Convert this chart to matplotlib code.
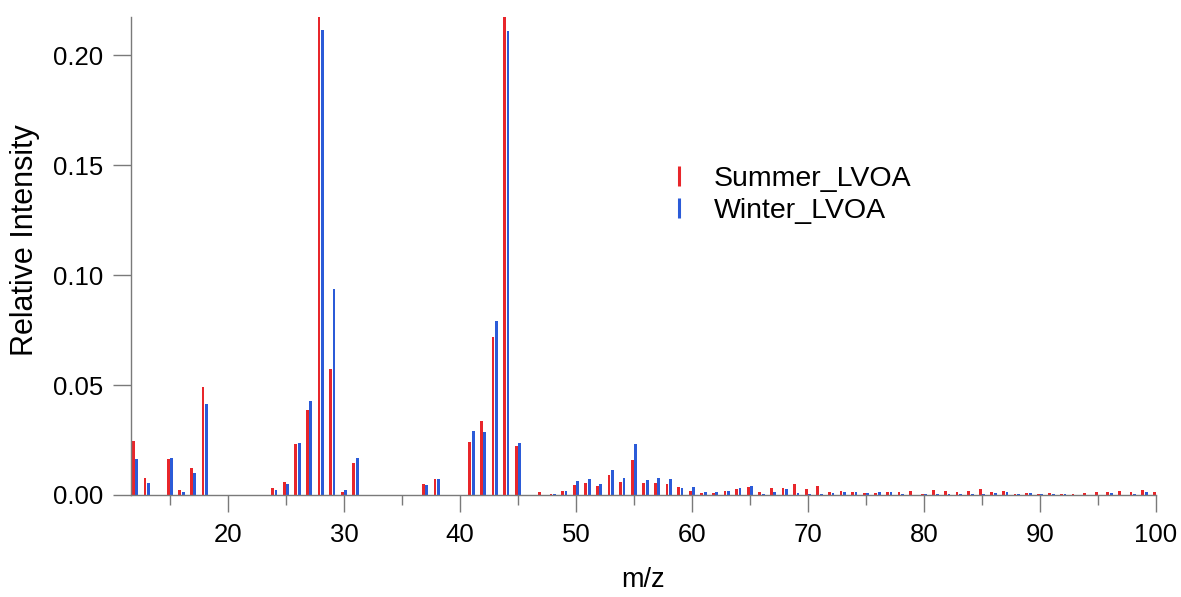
import matplotlib
matplotlib.use("Agg")
import matplotlib.pyplot as plt
from matplotlib.lines import Line2D
from matplotlib.ticker import MultipleLocator
import numpy as np

plt.rcParams['font.family'] = ['Liberation Sans', 'DejaVu Sans']

mz = list(range(12, 101))

summer = {
    12: 0.0245, 13: 0.0076, 15: 0.0165, 16: 0.0021, 17: 0.0123, 18: 0.0490,
    24: 0.0030, 25: 0.0059, 26: 0.0232, 27: 0.0386, 28: 0.2190, 29: 0.0573,
    30: 0.0014, 31: 0.0144, 37: 0.0049, 38: 0.0073, 41: 0.0242, 42: 0.0338,
    43: 0.0717, 44: 0.2190, 45: 0.0223, 47: 0.0014, 48: 0.0003, 49: 0.0017,
    50: 0.0045, 51: 0.0053, 52: 0.0040, 53: 0.0091, 54: 0.0059, 55: 0.0160,
    56: 0.0056, 57: 0.0053, 58: 0.0049, 59: 0.0035, 60: 0.0020, 61: 0.0010,
    62: 0.0008, 63: 0.0018, 64: 0.0028, 65: 0.0036, 66: 0.0015, 67: 0.0033,
    68: 0.0030, 69: 0.0048, 70: 0.0027, 71: 0.0041, 72: 0.0015, 73: 0.0018,
    74: 0.0014, 75: 0.0011, 76: 0.0011, 77: 0.0015, 78: 0.0012, 79: 0.0020,
    80: 0.0005, 81: 0.0023, 82: 0.0020, 83: 0.0015, 84: 0.0017, 85: 0.0027,
    86: 0.0012, 87: 0.0018, 88: 0.0005, 89: 0.0011, 90: 0.0006, 91: 0.0011,
    92: 0.0005, 93: 0.0003, 94: 0.0008, 95: 0.0015, 96: 0.0014, 97: 0.0018,
    98: 0.0012, 99: 0.0021, 100: 0.0012,
}
winter = {
    12: 0.0165, 13: 0.0053, 15: 0.0168, 16: 0.0015, 17: 0.0100, 18: 0.0414,
    24: 0.0021, 25: 0.0051, 26: 0.0236, 27: 0.0429, 28: 0.2115, 29: 0.0936,
    30: 0.0021, 31: 0.0167, 37: 0.0045, 38: 0.0073, 41: 0.0291, 42: 0.0286,
    43: 0.0794, 44: 0.2113, 45: 0.0236, 47: 0.0002, 48: 0.0003, 49: 0.0017,
    50: 0.0064, 51: 0.0074, 52: 0.0050, 53: 0.0114, 54: 0.0079, 55: 0.0232,
    56: 0.0070, 57: 0.0079, 58: 0.0073, 59: 0.0032, 60: 0.0035, 61: 0.0012,
    62: 0.0012, 63: 0.0018, 64: 0.0032, 65: 0.0041, 66: 0.0005, 67: 0.0015,
    68: 0.0029, 69: 0.0008, 70: 0.0005, 71: 0.0003, 72: 0.0011, 73: 0.0015,
    74: 0.0014, 75: 0.0011, 76: 0.0015, 77: 0.0015, 78: 0.0003, 79: 0.0001,
    80: 0.0003, 81: 0.0006, 82: 0.0006, 83: 0.0006, 84: 0.0006, 85: 0.0003,
    86: 0.0009, 87: 0.0012, 88: 0.0005, 89: 0.0011, 90: 0.0005, 91: 0.0003,
    92: 0.0003, 93: 0.0002, 94: 0.0002, 95: 0.0002, 96: 0.0011, 97: 0.0002,
    98: 0.0005, 99: 0.0015, 100: 0.0003,
}
summer_vals = [summer.get(m, 0.0) for m in mz]
winter_vals = [winter.get(m, 0.0) for m in mz]
series_labels = ['Summer_LVOA', 'Winter_LVOA']
yticks = [0, 0.05, 0.10, 0.15, 0.20]
ytick_labels = ['0.00', '0.05', '0.10', '0.15', '0.20']
xticks = [20, 30, 40, 50, 60, 70, 80, 90, 100]

red = '#e8262b'
blue = '#2b5bd8'
gray = '#7a7a7a'

fig = plt.figure(figsize=(11.81, 5.97), dpi=100)
ax = fig.add_axes([131/1181, 1 - 495/597, (1156-131)/1181, (495-17)/597])

x = np.array(mz, dtype=float)
ax.bar(x - 0.15, summer_vals, width=0.24, color=red, linewidth=0)
ax.bar(x + 0.15, winter_vals, width=0.24, color=blue, linewidth=0)

ax.set_xlim(11.65, 100)
ax.set_ylim(0, 0.2175)
ax.set_xticks(xticks)
ax.xaxis.set_minor_locator(MultipleLocator(5))
ax.set_yticks(yticks)
ax.set_yticklabels(ytick_labels)

for s in ['top', 'right']:
    ax.spines[s].set_visible(False)
for s in ['left', 'bottom']:
    ax.spines[s].set_color(gray)
    ax.spines[s].set_linewidth(1.0)

ax.tick_params(axis='x', which='major', length=12, width=1, color=gray,
               labelsize=18.5, pad=8, direction='out')
ax.tick_params(axis='x', which='minor', length=7, width=1, color=gray, direction='out')
ax.tick_params(axis='y', which='major', length=13, width=1, color=gray,
               labelsize=18.5, pad=7, direction='out')

ax.set_xlabel('m/z', fontsize=19.5)
ax.xaxis.set_label_coords(0.5, -(587 - 495) / 478, transform=ax.transAxes)
ax.xaxis.label.set_va('baseline')
ax.set_ylabel('Relative Intensity', fontsize=22)
ax.yaxis.set_label_coords(-(131 - 10) / 1025, (495 - 240) / 478, transform=ax.transAxes)
ax.yaxis.label.set_va('top')

handles = [
    Line2D([], [], color=red, marker='|', linestyle='None', markersize=15, markeredgewidth=2.2),
    Line2D([], [], color=blue, marker='|', linestyle='None', markersize=15, markeredgewidth=2.2),
]
leg = ax.legend(handles, series_labels, loc='center left',
                bbox_to_anchor=(0.524, 0.627), frameon=False, fontsize=20.5,
                borderpad=0, borderaxespad=0,
                handlelength=0.8, handletextpad=0.8, labelspacing=0.2)

fig.savefig('out.png', dpi=100)
